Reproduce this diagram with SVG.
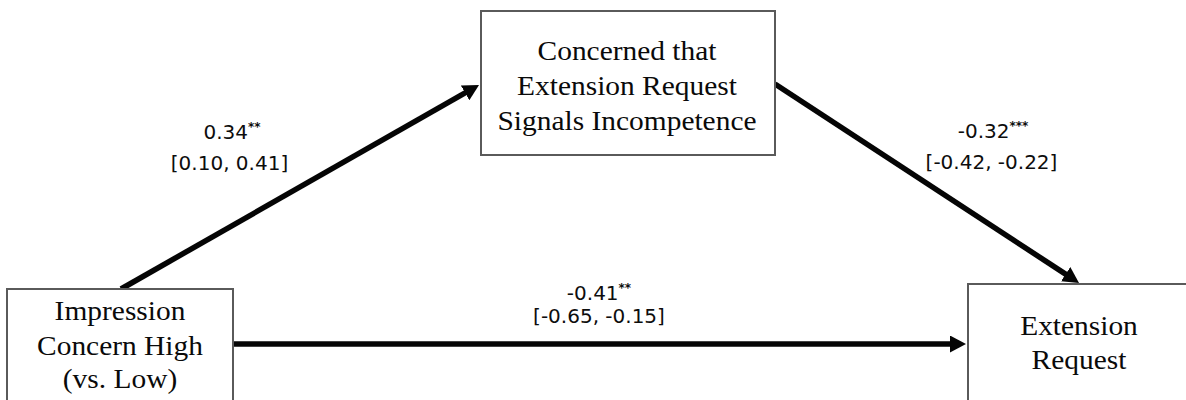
<svg xmlns="http://www.w3.org/2000/svg" width="1186" height="400" viewBox="0 0 1186 400">
  <style>
    .box { fill: #ffffff; stroke: #5a5a5a; stroke-width: 2; }
    .node-text { font-family: "Liberation Serif", "Times New Roman", serif; font-size: 27px; fill: #0a0a0a; text-anchor: middle; }
    .coef { font-family: "DejaVu Sans", "Liberation Sans", sans-serif; font-size: 20px; fill: #0d0d0d; text-anchor: middle; }
    .sig { font-size: 12px; font-weight: bold; }
    .path { fill: none; stroke: #050505; stroke-width: 5.5; stroke-linecap: butt; marker-end: url(#head); }
  </style>
  <defs>
    <marker id="head" markerUnits="userSpaceOnUse" viewBox="0 0 16 17" markerWidth="16" markerHeight="17" refX="4" refY="8.5" orient="auto">
      <path d="M0,0 L16,8.5 L0,17 Z" fill="#050505"/>
    </marker>
  </defs>

  <rect width="1186" height="400" fill="#ffffff"/>

  <!-- connectors -->
  <g id="connectors">
    <path id="a-to-m" class="path" d="M121,289 L468.6,90.9"/>
    <path id="m-to-y" class="path" d="M775,84 L1069,276.4"/>
    <path id="a-to-y" class="path" d="M233,344 L954,344"/>
  </g>

  <!-- path coefficients with confidence intervals -->
  <g id="labels">
    <text class="coef" x="232" y="139">0.34<tspan class="sig" dy="-8">**</tspan></text>
    <text class="coef" x="229.5" y="170">[0.10, 0.41]</text>
    <text class="coef" x="993" y="138">-0.32<tspan class="sig" dy="-8">***</tspan></text>
    <text class="coef" x="991.5" y="169">[-0.42, -0.22]</text>
    <text class="coef" x="599" y="300">-0.41<tspan class="sig" dy="-8">**</tspan></text>
    <text class="coef" x="599" y="323">[-0.65, -0.15]</text>
  </g>

  <!-- predictor -->
  <g id="node-impression">
    <rect class="box" x="7" y="289" width="226" height="130"/>
    <g transform="translate(120,0) scale(1.09,1)">
      <text class="node-text" x="0" y="320">Impression</text>
      <text class="node-text" x="0" y="355">Concern High</text>
      <text class="node-text" x="0" y="388">(vs. Low)</text>
    </g>
  </g>

  <!-- mediator -->
  <g id="node-concern">
    <rect class="box" x="481" y="11" width="294" height="144"/>
    <g transform="translate(627,0) scale(1.09,1)">
      <text class="node-text" x="0" y="60">Concerned that</text>
      <text class="node-text" x="0" y="95">Extension Request</text>
      <text class="node-text" x="0" y="130.5">Signals Incompetence</text>
    </g>
  </g>

  <!-- outcome -->
  <g id="node-extension">
    <rect class="box" x="968" y="284" width="230" height="130"/>
    <g transform="translate(1079,0) scale(1.09,1)">
      <text class="node-text" x="0" y="335">Extension</text>
      <text class="node-text" x="0" y="369">Request</text>
    </g>
  </g>
</svg>
